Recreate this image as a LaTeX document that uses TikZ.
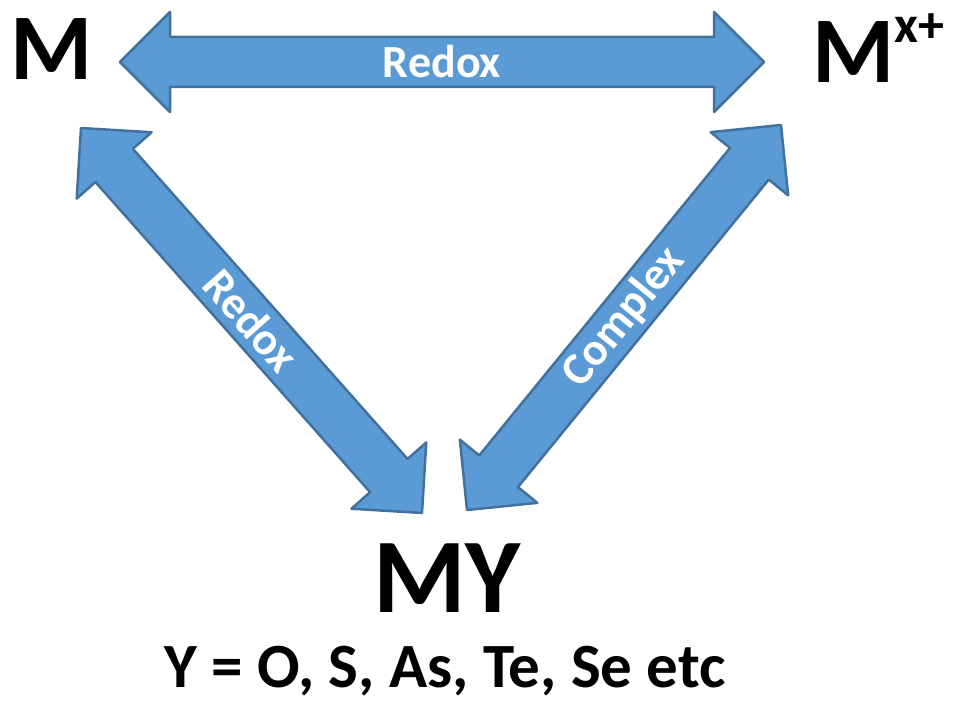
\documentclass[tikz,border=0pt]{standalone}
\usepackage{fontspec}
\setmainfont{Carlito}
\usepackage{xcolor}
\usepackage{tikz}
\usetikzlibrary{calc,positioning}
\definecolor{arrowBlue}{RGB}{91,155,213}
\definecolor{arrowBlueDark}{RGB}{65,113,156}

\tikzset{
  blockarrow/.style={fill=arrowBlue, draw=arrowBlueDark, line width=2.5pt, line join=round},
  arrowlabel/.style={text=white, font=\bfseries\fontsize{46}{46}\selectfont, inner sep=0pt},
  species/.style={text=black, font=\bfseries\fontsize{94}{94}\selectfont, inner sep=0pt, anchor=base},
}

% double block arrow between two tips
\newcommand{\blockarrow}[2]{%
  \coordinate (#1h) at ($(#1)!\headlen pt!(#2)$);
  \coordinate (#2h) at ($(#2)!\headlen pt!(#1)$);
  \draw[blockarrow] (#1)
    -- ($(#1h)!\headw pt!90:(#2)$) -- ($(#1h)!\shaftw pt!90:(#2)$)
    -- ($(#2h)!\shaftw pt!-90:(#1)$) -- ($(#2h)!\headw pt!-90:(#1)$)
    -- (#2)
    -- ($(#2h)!\headw pt!90:(#1)$) -- ($(#2h)!\shaftw pt!90:(#1)$)
    -- ($(#1h)!\shaftw pt!-90:(#2)$) -- ($(#1h)!\headw pt!-90:(#2)$)
    -- cycle;
}

\begin{document}
\begin{tikzpicture}[x=1pt,y=-1pt]

\useasboundingbox (0,0) rectangle (959,701);

% arrow shape
\pgfmathsetmacro{\headlen}{50}
\pgfmathsetmacro{\headw}{50}
\pgfmathsetmacro{\shaftw}{25}

% =========================
% Species
% =========================
\node[species] (m) at (52,80) {M};
\node[species] (mx) at (878,83) {M\raisebox{40pt}{\fontsize{52}{52}\selectfont x+}};
\node[species, font=\bfseries\fontsize{106}{106}\selectfont] (my) at (447,612) {MY};
\node[species, font=\bfseries\fontsize{63}{63}\selectfont] (ylist) at (445,687) {Y = O, S, As, Te, Se etc};

% =========================
% Arrow tips
% =========================
\coordinate (topL) at (120,62);
\coordinate (topR) at (764,62);
\coordinate (leftT) at (81,128);
\coordinate (leftB) at (422,513);
\coordinate (rightB) at (467,510);
\coordinate (rightT) at (781,125);

% M <-> M^{x+}
\blockarrow{topL}{topR}
\path (topL) -- (topR) node[midway, sloped, arrowlabel] (lRedoxTop) {Redox};

% M <-> MY
\blockarrow{leftT}{leftB}
\path (leftT) -- (leftB) node[midway, sloped, arrowlabel] (lRedoxLeft) {Redox};

% MY <-> M^{x+}
\blockarrow{rightB}{rightT}
\path (rightB) -- (rightT) node[midway, sloped, arrowlabel] (lComplex) {Complex};

\end{tikzpicture}
\end{document}
